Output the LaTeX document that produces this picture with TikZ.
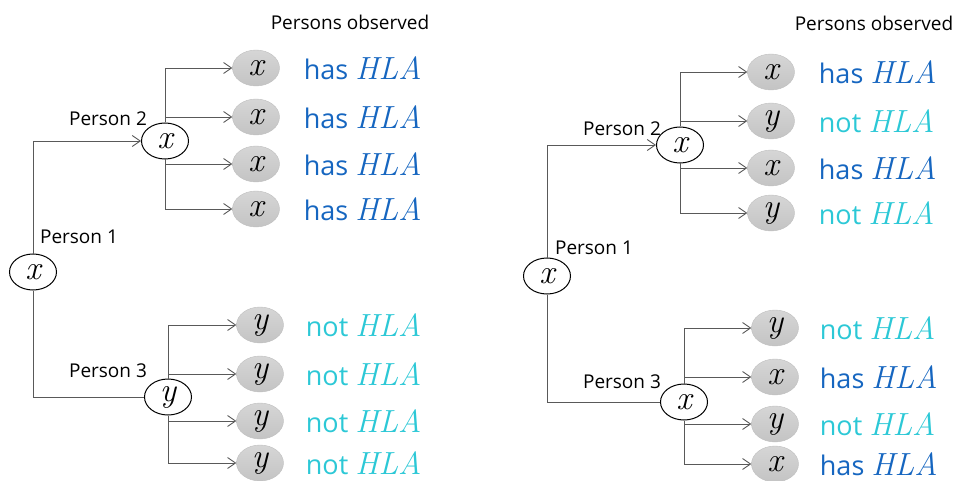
\documentclass[tikz,border=0pt]{standalone}
\usepackage{fontspec}
\setsansfont{Open Sans}
\usetikzlibrary{arrows.meta,positioning,shapes.geometric}
\definecolor{hasblue}{RGB}{22,102,192}
\definecolor{notcyan}{RGB}{44,200,214}
\definecolor{obsgray}{RGB}{196,196,196}
\newcommand{\obsv}[1]{{\rmfamily\itshape\fontsize{34}{34}\selectfont #1}}
\newcommand{\hla}{{\rmfamily\itshape\fontsize{32}{32}\selectfont HLA}}
\tikzset{
  >={Straight Barb[length=8pt,width=11pt]},
  link/.style ={draw=black!65, line width=0.9pt},
  prs/.style  ={draw, ellipse, line width=1pt, fill=white, minimum width=47pt, minimum height=36pt, inner sep=0pt},
  obs/.style  ={draw=black!25, ellipse, top color=obsgray!70!white, bottom color=obsgray, minimum width=47pt, minimum height=36pt, inner sep=0pt},
  lbl/.style  ={font=\sffamily\fontsize{19}{22}\selectfont, inner sep=0pt},
  hastxt/.style={text=hasblue, font=\sffamily\fontsize{27}{30}\selectfont, inner sep=0pt},
  nottxt/.style={text=notcyan, font=\sffamily\fontsize{27}{30}\selectfont, inner sep=0pt}
}
\newcommand{\hastext}{has \hla}
\newcommand{\nottext}{not \hla}
\begin{document}
\begin{tikzpicture}[x=1pt,y=-1pt]
\useasboundingbox (0,0) rectangle (958,481);

% left tree: all observed persons agree
\node[prs] (l1) at (33,272)  {\obsv{x}};
\node[prs] (l2) at (165,141) {\obsv{x}};
\node[prs] (l3) at (168,397) {\obsv{y}};
\node[lbl] (l1lbl) at (79,237)  {Person 1};
\node[lbl] (l2lbl) at (108,119) {Person 2};
\node[lbl] (l3lbl) at (108,371) {Person 3};
\node[lbl] (lhead) at (350,22)  {Persons observed};
\draw[link,->] (l1.north) |- (l2.west);
\draw[link] (l1.south) |- (l3.west);
\foreach \i/\yy/\v/\s/\a in {1/68/x/has/north, 2/117/x/has/north, 3/164/x/has/south, 4/209/x/has/south}{
  \node[obs] (lb\i) at (256,\yy) {\obsv{\v}};
  \node[\s txt, right=24pt of lb\i] (lt\i) {\csname\s text\endcsname};
  \draw[link,->] (l2.\a) |- (lb\i.west);
}
\foreach \i/\yy/\v/\s/\a in {1/325/y/not/north, 2/374/y/not/north, 3/421/y/not/south, 4/463/y/not/south}{
  \node[obs] (lc\i) at (260,\yy) {\obsv{\v}};
  \node[\s txt, right=22pt of lc\i] (lu\i) {\csname\s text\endcsname};
  \draw[link,->] (l3.\a) |- (lc\i.west);
}

% right tree: observed persons differ
\node[prs] (r1) at (547,276) {\obsv{x}};
\node[prs] (r2) at (680,145) {\obsv{x}};
\node[prs] (r3) at (684,402) {\obsv{x}};
\node[lbl] (r1lbl) at (594,248) {Person 1};
\node[lbl] (r2lbl) at (622,129) {Person 2};
\node[lbl] (r3lbl) at (622,382) {Person 3};
\node[lbl] (rhead) at (874,23)  {Persons observed};
\draw[link,->] (r1.north) |- (r2.west);
\draw[link] (r1.south) |- (r3.west);
\foreach \i/\yy/\v/\s/\a in {1/72/x/has/north, 2/121/y/not/north, 3/168/x/has/south, 4/213/y/not/south}{
  \node[obs] (rb\i) at (771,\yy) {\obsv{\v}};
  \node[\s txt, right=24pt of rb\i] (rt\i) {\csname\s text\endcsname};
  \draw[link,->] (r2.\a) |- (rb\i.west);
}
\foreach \i/\yy/\v/\s/\a in {1/328/y/not/north, 2/377/x/has/north, 3/424/y/not/south, 4/464/x/has/south}{
  \node[obs] (rc\i) at (775,\yy) {\obsv{\v}};
  \node[\s txt, right=21pt of rc\i] (ru\i) {\csname\s text\endcsname};
  \draw[link,->] (r3.\a) |- (rc\i.west);
}
\end{tikzpicture}
\end{document}
